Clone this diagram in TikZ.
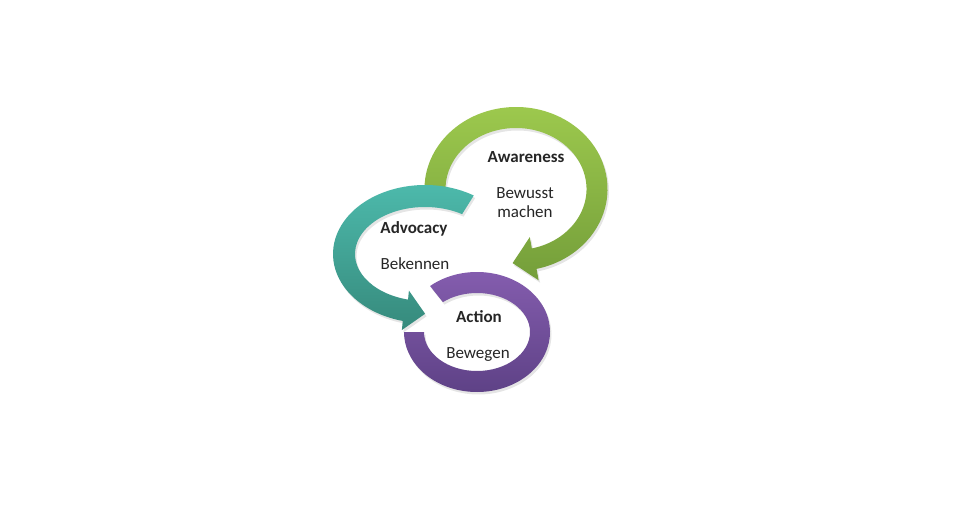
\documentclass[tikz,border=0pt]{standalone}
\usepackage{fontspec}
\setmainfont{Carlito}
\usetikzlibrary{calc}
\definecolor{gTop}{RGB}{158,202,78}
\definecolor{gBot}{RGB}{116,158,58}
\definecolor{tTop}{RGB}{78,188,174}
\definecolor{tBot}{RGB}{54,138,124}
\definecolor{pTop}{RGB}{134,94,176}
\definecolor{pBot}{RGB}{92,64,132}
\begin{document}
\begin{tikzpicture}[x=1pt,y=1pt,
  ring/.style={draw=none, preaction={fill=black, fill opacity=0.10, transform canvas={shift={(1.5pt,-2.5pt)}}}},
  lbl/.style={font=\fontsize{17}{20}\selectfont, text=black!85, anchor=base, inner sep=0pt},
  blbl/.style={lbl, font=\fontsize{17}{20}\selectfont\bfseries}]
\useasboundingbox (0,0) rectangle (960,509);
\fill[white] (0,0) rectangle (960,509);
% centres
\coordinate (gc) at (516,320);
\coordinate (tc) at (425,255);
\coordinate (pc) at (477,177);
% green arrow (Awareness)
\shade[ring, top color=gTop, bottom color=gBot]
  ($(gc)+(190:91.5 and 82)$) arc[start angle=190, end angle=-77, x radius=91.5, y radius=82]
  -- (538.6,228.7) -- (512.6,245.9) -- (529.8,271.9)
  -- ($(gc)+(-77:70.5 and 61)$) arc[start angle=-77, end angle=190, x radius=70.5, y radius=61] -- cycle;
% purple ring (Action)
\shade[ring, top color=pTop, bottom color=pBot]
  ($(pc)+(130:73 and 60)$) arc[start angle=130, end angle=-180, x radius=73, y radius=60]
  -- ($(pc)+(-180:53 and 39)$) arc[start angle=-180, end angle=130, x radius=53, y radius=39] -- cycle;
% teal arrow (Advocacy)
\shade[ring, top color=tTop, bottom color=tBot]
  ($(tc)+(58:92 and 69)$) arc[start angle=58, end angle=256, x radius=92, y radius=69]
  -- (401.9,179.0) -- (425.1,195.2) -- (408.9,218.4)
  -- ($(tc)+(256:70 and 47)$) arc[start angle=256, end angle=58, x radius=70, y radius=47] -- cycle;
% labels
\node[blbl] (aw) at (526,346.5) {Awareness};
\node[lbl] (bw1) at (525,310.5) {Bewusst};
\node[lbl] (bw2) at (525,291.5) {machen};
\node[blbl] (adv) at (414,275.5) {Advocacy};
\node[lbl] (bek) at (415,239.5) {Bekennen};
\node[blbl] (act) at (479,187) {Action};
\node[lbl] (bew) at (478,150.5) {Bewegen};
\end{tikzpicture}
\end{document}
